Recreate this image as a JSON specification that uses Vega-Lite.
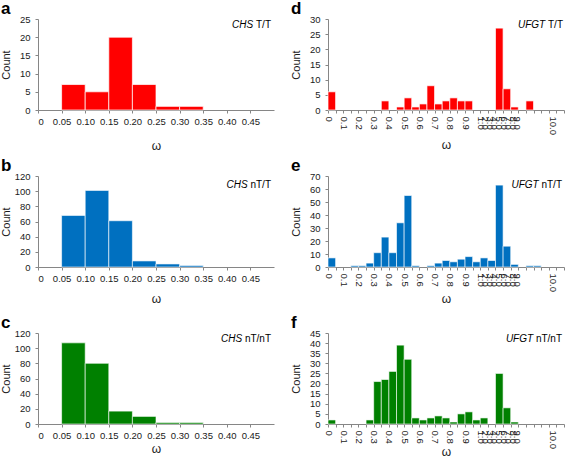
{
  "$schema": "https://vega.github.io/schema/vega-lite/v6.json",
  "background": "white",
  "padding": {"left": 0, "top": 0, "right": 0, "bottom": 0},
  "config": {
    "font": "Liberation Sans",
    "view": {"stroke": null},
    "axis": {"grid": false, "labelOverlap": false, "domainColor": "#868686", "tickColor": "#868686", "labelColor": "#1a1a1a", "titleColor": "#1a1a1a", "labelFontSize": 9.5, "titleFontSize": 11, "titleFontWeight": "normal", "tickSize": 3, "labelFont": "Liberation Sans", "titleFont": "Liberation Sans"},
    "axisX": {"labelPadding": 3, "titleFontSize": 12, "titleBaseline": "alphabetic", "labelAngle": 0},
    "axisY": {"labelPadding": 5, "titleX": -29, "titleBaseline": "alphabetic"},
    "title": {"fontSize": 17, "fontWeight": "bold", "anchor": "start", "frame": "group", "dx": -37, "offset": -4, "baseline": "alphabetic", "color": "#000000"},
    "text": {"font": "Liberation Sans", "fontSize": 10, "color": "#000000"}
  },
  "datasets": {
    "chs_tt": [
      {"lo": 0.05, "hi": 0.1, "n": 7}, {"lo": 0.1, "hi": 0.15, "n": 5}, {"lo": 0.15, "hi": 0.2, "n": 20},
      {"lo": 0.2, "hi": 0.25, "n": 7}, {"lo": 0.25, "hi": 0.3, "n": 1}, {"lo": 0.3, "hi": 0.35, "n": 1}
    ],
    "chs_ntt": [
      {"lo": 0.05, "hi": 0.1, "n": 68}, {"lo": 0.1, "hi": 0.15, "n": 101}, {"lo": 0.15, "hi": 0.2, "n": 61},
      {"lo": 0.2, "hi": 0.25, "n": 8}, {"lo": 0.25, "hi": 0.3, "n": 4}, {"lo": 0.3, "hi": 0.35, "n": 2}
    ],
    "chs_ntnt": [
      {"lo": 0.05, "hi": 0.1, "n": 107}, {"lo": 0.1, "hi": 0.15, "n": 80}, {"lo": 0.15, "hi": 0.2, "n": 17},
      {"lo": 0.2, "hi": 0.25, "n": 10}, {"lo": 0.25, "hi": 0.3, "n": 2}, {"lo": 0.3, "hi": 0.35, "n": 2}
    ],
    "ufgt_tt": [
      {"b0": 0, "b1": 1, "n": 6}, {"b0": 7, "b1": 8, "n": 3}, {"b0": 9, "b1": 10, "n": 1}, {"b0": 10, "b1": 11, "n": 4},
      {"b0": 11, "b1": 12, "n": 1}, {"b0": 12, "b1": 13, "n": 2}, {"b0": 13, "b1": 14, "n": 8}, {"b0": 14, "b1": 15, "n": 2},
      {"b0": 15, "b1": 16, "n": 3}, {"b0": 16, "b1": 17, "n": 4}, {"b0": 17, "b1": 18, "n": 3}, {"b0": 18, "b1": 19, "n": 3},
      {"b0": 22, "b1": 23, "n": 27}, {"b0": 23, "b1": 24, "n": 7}, {"b0": 24, "b1": 25, "n": 1}, {"b0": 26, "b1": 27, "n": 3}
    ],
    "ufgt_ntt": [
      {"b0": 0, "b1": 1, "n": 7}, {"b0": 3, "b1": 4, "n": 1}, {"b0": 4, "b1": 5, "n": 1}, {"b0": 5, "b1": 6, "n": 3},
      {"b0": 6, "b1": 7, "n": 11}, {"b0": 7, "b1": 8, "n": 23}, {"b0": 8, "b1": 9, "n": 11}, {"b0": 9, "b1": 10, "n": 34},
      {"b0": 10, "b1": 11, "n": 55}, {"b0": 11, "b1": 12, "n": 1}, {"b0": 13, "b1": 14, "n": 1}, {"b0": 14, "b1": 15, "n": 3},
      {"b0": 15, "b1": 16, "n": 5}, {"b0": 16, "b1": 17, "n": 4}, {"b0": 17, "b1": 18, "n": 6}, {"b0": 18, "b1": 19, "n": 8},
      {"b0": 19, "b1": 20, "n": 4}, {"b0": 20, "b1": 21, "n": 7}, {"b0": 21, "b1": 22, "n": 5}, {"b0": 22, "b1": 23, "n": 63},
      {"b0": 23, "b1": 24, "n": 16}, {"b0": 24, "b1": 25, "n": 2}, {"b0": 26, "b1": 27, "n": 1}, {"b0": 27, "b1": 28, "n": 1}
    ],
    "ufgt_ntnt": [
      {"b0": 0, "b1": 1, "n": 2}, {"b0": 5, "b1": 6, "n": 2}, {"b0": 6, "b1": 7, "n": 21}, {"b0": 7, "b1": 8, "n": 22},
      {"b0": 8, "b1": 9, "n": 26}, {"b0": 9, "b1": 10, "n": 39}, {"b0": 10, "b1": 11, "n": 32}, {"b0": 11, "b1": 12, "n": 3},
      {"b0": 12, "b1": 13, "n": 2}, {"b0": 13, "b1": 14, "n": 3}, {"b0": 14, "b1": 15, "n": 4}, {"b0": 15, "b1": 16, "n": 3},
      {"b0": 16, "b1": 17, "n": 1}, {"b0": 17, "b1": 18, "n": 5}, {"b0": 18, "b1": 19, "n": 6}, {"b0": 19, "b1": 20, "n": 2},
      {"b0": 20, "b1": 21, "n": 3}, {"b0": 22, "b1": 23, "n": 25}, {"b0": 23, "b1": 24, "n": 8}, {"b0": 24, "b1": 25, "n": 1}
    ]
  },
  "columns": 2,
  "spacing": {"row": 66, "column": 54},
  "bounds": "flush",
  "concat": [
    {
      "title": {"text": "a"}, "width": 236, "height": 91,
      "layer": [
        {"data": {"name": "chs_tt"},
         "mark": {"type": "bar", "color": "#FF0000", "stroke": "#FFFFFF", "strokeWidth": 1, "strokeOpacity": 0.7},
         "encoding": {
           "x": {"field": "lo", "type": "quantitative", "title": "ω", "scale": {"domain": [0, 0.5], "nice": false, "zero": false},
                 "axis": {"tickCount": 100, "values": [0, 0.05, 0.1, 0.15, 0.2, 0.25, 0.3, 0.35, 0.4, 0.45], "labelExpr": "datum.value == 0 ? '0' : format(datum.value, '.2f')", "titleY": 39}},
           "x2": {"field": "hi"},
           "y": {"field": "n", "type": "quantitative", "title": "Count", "scale": {"domain": [0, 25], "nice": false}, "axis": {"tickCount": 100, "format": "d", "values": [0, 5, 10, 15, 20, 25]}},
           "y2": {"datum": 0}
         }},
        {"data": {"values": [{"gene": "CHS", "pair": "T/T"}]},
         "mark": {"type": "text", "align": "right", "baseline": "top", "dx": -3, "dy": 1},
         "encoding": {"x": {"datum": 0.5}, "y": {"datum": 25}, "text": {"field": "pair"}}},
        {"data": {"values": [{"gene": "CHS", "pair": "T/T"}]},
         "mark": {"type": "text", "align": "right", "baseline": "top", "fontStyle": "italic", "dx": -20.8, "dy": 1},
         "encoding": {"x": {"datum": 0.5}, "y": {"datum": 25}, "text": {"field": "gene"}}}
      ]
    },
    {
      "title": {"text": "d"}, "width": 236, "height": 91,
      "layer": [
        {"data": {"name": "ufgt_tt"},
         "mark": {"type": "bar", "color": "#FF0000", "stroke": "#FFFFFF", "strokeWidth": 1, "strokeOpacity": 0.7},
         "encoding": {
           "x": {"field": "b0", "type": "quantitative", "title": "ω", "scale": {"domain": [0, 31], "nice": false, "zero": false},
                 "axis": {"tickCount": 100, "values": [0,1,2,3,4,5,6,7,8,9,10,11,12,13,14,15,16,17,18,19,20,21,22,23,24,25,26,27,28,29,30,31,20.6,21.2,21.8,22.4,23.6,24.2,24.8,29.5],
                          "labelAngle": 90, "labelOverlap": false, "titleY": 38,
                          "tickOpacity": {"condition": {"test": "datum.value % 1 != 0", "value": 0}, "value": 1},
                          "labelExpr": "datum.value <= 20 ? (datum.value % 2 == 0 ? (datum.value == 0 ? '0' : format(datum.value / 20, '.1f')) : '') : (datum.value == 29.5 ? '10.0' : ((datum.value < 25 && abs((datum.value - 20) / 0.6 - round((datum.value - 20) / 0.6)) < 0.01) ? format(round((datum.value - 20) / 0.6) + 1, '.1f') : ''))"}},
           "x2": {"field": "b1"},
           "y": {"field": "n", "type": "quantitative", "title": "Count", "scale": {"domain": [0, 30], "nice": false}, "axis": {"tickCount": 100, "format": "d", "values": [0, 5, 10, 15, 20, 25, 30]}},
           "y2": {"datum": 0}
         }},
        {"data": {"values": [{"gene": "UFGT", "pair": "T/T"}]},
         "mark": {"type": "text", "align": "right", "baseline": "top", "dx": -1, "dy": 1},
         "encoding": {"x": {"datum": 31}, "y": {"datum": 30}, "text": {"field": "pair"}}},
        {"data": {"values": [{"gene": "UFGT", "pair": "T/T"}]},
         "mark": {"type": "text", "align": "right", "baseline": "top", "fontStyle": "italic", "dx": -18.8, "dy": 1},
         "encoding": {"x": {"datum": 31}, "y": {"datum": 30}, "text": {"field": "gene"}}}
      ]
    },
    {
      "title": {"text": "b"}, "width": 236, "height": 91,
      "layer": [
        {"data": {"name": "chs_ntt"},
         "mark": {"type": "bar", "color": "#0070C0", "stroke": "#FFFFFF", "strokeWidth": 1, "strokeOpacity": 0.6},
         "encoding": {
           "x": {"field": "lo", "type": "quantitative", "title": "ω", "scale": {"domain": [0, 0.5], "nice": false, "zero": false},
                 "axis": {"tickCount": 100, "values": [0, 0.05, 0.1, 0.15, 0.2, 0.25, 0.3, 0.35, 0.4, 0.45], "labelExpr": "datum.value == 0 ? '0' : format(datum.value, '.2f')", "titleY": 35}},
           "x2": {"field": "hi"},
           "y": {"field": "n", "type": "quantitative", "title": "Count", "scale": {"domain": [0, 120], "nice": false}, "axis": {"tickCount": 100, "format": "d", "values": [0, 20, 40, 60, 80, 100, 120]}},
           "y2": {"datum": 0}
         }},
        {"data": {"values": [{"gene": "CHS", "pair": "nT/T"}]},
         "mark": {"type": "text", "align": "right", "baseline": "top", "dx": -3, "dy": 3.5},
         "encoding": {"x": {"datum": 0.5}, "y": {"datum": 120}, "text": {"field": "pair"}}},
        {"data": {"values": [{"gene": "CHS", "pair": "nT/T"}]},
         "mark": {"type": "text", "align": "right", "baseline": "top", "fontStyle": "italic", "dx": -26.3, "dy": 3.5},
         "encoding": {"x": {"datum": 0.5}, "y": {"datum": 120}, "text": {"field": "gene"}}}
      ]
    },
    {
      "title": {"text": "e"}, "width": 236, "height": 91,
      "layer": [
        {"data": {"name": "ufgt_ntt"},
         "mark": {"type": "bar", "color": "#0070C0", "stroke": "#FFFFFF", "strokeWidth": 1, "strokeOpacity": 0.6},
         "encoding": {
           "x": {"field": "b0", "type": "quantitative", "title": "ω", "scale": {"domain": [0, 31], "nice": false, "zero": false},
                 "axis": {"tickCount": 100, "values": [0,1,2,3,4,5,6,7,8,9,10,11,12,13,14,15,16,17,18,19,20,21,22,23,24,25,26,27,28,29,30,31,20.6,21.2,21.8,22.4,23.6,24.2,24.8,29.5],
                          "labelAngle": 90, "labelOverlap": false, "titleY": 35,
                          "tickOpacity": {"condition": {"test": "datum.value % 1 != 0", "value": 0}, "value": 1},
                          "labelExpr": "datum.value <= 20 ? (datum.value % 2 == 0 ? (datum.value == 0 ? '0' : format(datum.value / 20, '.1f')) : '') : (datum.value == 29.5 ? '10.0' : ((datum.value < 25 && abs((datum.value - 20) / 0.6 - round((datum.value - 20) / 0.6)) < 0.01) ? format(round((datum.value - 20) / 0.6) + 1, '.1f') : ''))"}},
           "x2": {"field": "b1"},
           "y": {"field": "n", "type": "quantitative", "title": "Count", "scale": {"domain": [0, 70], "nice": false}, "axis": {"tickCount": 100, "format": "d", "values": [0, 10, 20, 30, 40, 50, 60, 70]}},
           "y2": {"datum": 0}
         }},
        {"data": {"values": [{"gene": "UFGT", "pair": "nT/T"}]},
         "mark": {"type": "text", "align": "right", "baseline": "top", "dx": -2, "dy": 3.5},
         "encoding": {"x": {"datum": 31}, "y": {"datum": 70}, "text": {"field": "pair"}}},
        {"data": {"values": [{"gene": "UFGT", "pair": "nT/T"}]},
         "mark": {"type": "text", "align": "right", "baseline": "top", "fontStyle": "italic", "dx": -25.3, "dy": 3.5},
         "encoding": {"x": {"datum": 31}, "y": {"datum": 70}, "text": {"field": "gene"}}}
      ]
    },
    {
      "title": {"text": "c"}, "width": 236, "height": 91,
      "layer": [
        {"data": {"name": "chs_ntnt"},
         "mark": {"type": "bar", "color": "#008000", "stroke": "#FFFFFF", "strokeWidth": 1, "strokeOpacity": 0.6},
         "encoding": {
           "x": {"field": "lo", "type": "quantitative", "title": "ω", "scale": {"domain": [0, 0.5], "nice": false, "zero": false},
                 "axis": {"tickCount": 100, "values": [0, 0.05, 0.1, 0.15, 0.2, 0.25, 0.3, 0.35, 0.4, 0.45], "labelExpr": "datum.value == 0 ? '0' : format(datum.value, '.2f')", "titleY": 28}},
           "x2": {"field": "hi"},
           "y": {"field": "n", "type": "quantitative", "title": "Count", "scale": {"domain": [0, 120], "nice": false}, "axis": {"tickCount": 100, "format": "d", "values": [0, 20, 40, 60, 80, 100, 120]}},
           "y2": {"datum": 0}
         }},
        {"data": {"values": [{"gene": "CHS", "pair": "nT/nT"}]},
         "mark": {"type": "text", "align": "right", "baseline": "top", "dx": -3, "dy": 1},
         "encoding": {"x": {"datum": 0.5}, "y": {"datum": 120}, "text": {"field": "pair"}}},
        {"data": {"values": [{"gene": "CHS", "pair": "nT/nT"}]},
         "mark": {"type": "text", "align": "right", "baseline": "top", "fontStyle": "italic", "dx": -31.9, "dy": 1},
         "encoding": {"x": {"datum": 0.5}, "y": {"datum": 120}, "text": {"field": "gene"}}}
      ]
    },
    {
      "title": {"text": "f"}, "width": 236, "height": 91,
      "layer": [
        {"data": {"name": "ufgt_ntnt"},
         "mark": {"type": "bar", "color": "#008000", "stroke": "#FFFFFF", "strokeWidth": 1, "strokeOpacity": 0.6},
         "encoding": {
           "x": {"field": "b0", "type": "quantitative", "title": "ω", "scale": {"domain": [0, 31], "nice": false, "zero": false},
                 "axis": {"tickCount": 100, "values": [0,1,2,3,4,5,6,7,8,9,10,11,12,13,14,15,16,17,18,19,20,21,22,23,24,25,26,27,28,29,30,31,20.6,21.2,21.8,22.4,23.6,24.2,24.8,29.5],
                          "labelAngle": 90, "labelOverlap": false, "titleY": 31,
                          "tickOpacity": {"condition": {"test": "datum.value % 1 != 0", "value": 0}, "value": 1},
                          "labelExpr": "datum.value <= 20 ? (datum.value % 2 == 0 ? (datum.value == 0 ? '0' : format(datum.value / 20, '.1f')) : '') : (datum.value == 29.5 ? '10.0' : ((datum.value < 25 && abs((datum.value - 20) / 0.6 - round((datum.value - 20) / 0.6)) < 0.01) ? format(round((datum.value - 20) / 0.6) + 1, '.1f') : ''))"}},
           "x2": {"field": "b1"},
           "y": {"field": "n", "type": "quantitative", "title": "Count", "scale": {"domain": [0, 45], "nice": false}, "axis": {"tickCount": 100, "format": "d", "values": [0, 5, 10, 15, 20, 25, 30, 35, 40, 45]}},
           "y2": {"datum": 0}
         }},
        {"data": {"values": [{"gene": "UFGT", "pair": "nT/nT"}]},
         "mark": {"type": "text", "align": "right", "baseline": "top", "dx": -2, "dy": 1},
         "encoding": {"x": {"datum": 31}, "y": {"datum": 45}, "text": {"field": "pair"}}},
        {"data": {"values": [{"gene": "UFGT", "pair": "nT/nT"}]},
         "mark": {"type": "text", "align": "right", "baseline": "top", "fontStyle": "italic", "dx": -30.9, "dy": 1},
         "encoding": {"x": {"datum": 31}, "y": {"datum": 45}, "text": {"field": "gene"}}}
      ]
    }
  ]
}
